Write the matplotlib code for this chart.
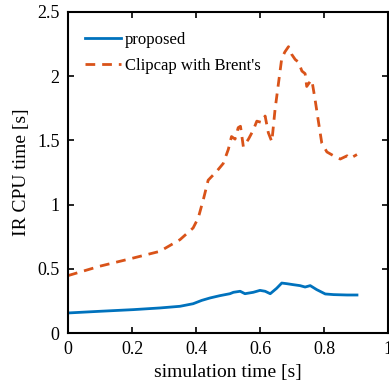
import matplotlib.pyplot as plt
import numpy as np

# datos
t_prop = [0, 0.099, 0.204, 0.287, 0.35, 0.391, 0.418, 0.444, 0.475, 0.506, 0.517,
          0.538, 0.553, 0.579, 0.600, 0.616, 0.632, 0.652, 0.668, 0.684, 0.705,
          0.725, 0.741, 0.757, 0.777, 0.804, 0.830, 0.872, 0.903]
cpu_prop = [0.156, 0.169, 0.182, 0.195, 0.208, 0.228, 0.254, 0.273, 0.291, 0.306, 0.317,
            0.325, 0.306, 0.317, 0.332, 0.325, 0.306, 0.348, 0.389, 0.384, 0.376,
            0.369, 0.358, 0.369, 0.338, 0.304, 0.299, 0.296, 0.296]

t_clip = [0, 0.099, 0.204, 0.287, 0.35, 0.391, 0.407, 0.423, 0.438, 0.465, 0.485,
          0.501, 0.511, 0.522, 0.532, 0.539, 0.548, 0.564, 0.579, 0.590, 0.605,
          0.616, 0.626, 0.637, 0.647, 0.658, 0.668, 0.678, 0.689, 0.699, 0.710,
          0.720, 0.731, 0.741, 0.746, 0.757, 0.762, 0.772, 0.783, 0.793, 0.809,
          0.830, 0.851, 0.872, 0.882, 0.903]
cpu_clip = [0.447, 0.52, 0.584, 0.636, 0.727, 0.818, 0.896, 1.04, 1.19, 1.26, 1.32,
            1.43, 1.53, 1.51, 1.60, 1.61, 1.45, 1.51, 1.58, 1.65, 1.64,
            1.69, 1.56, 1.49, 1.74, 1.95, 2.14, 2.19, 2.23, 2.17, 2.13,
            2.11, 2.04, 2.02, 1.92, 1.96, 1.97, 1.82, 1.64, 1.48, 1.41,
            1.38, 1.355, 1.38, 1.36, 1.39]

plt.rcParams['font.family'] = 'Liberation Serif'
plt.rcParams['font.size'] = 13

fig = plt.figure(figsize=(3.89, 3.90), dpi=100)
ax = fig.add_axes([68/389, 1 - 333/390, 320/389, 321/390])

ax.plot(t_prop, cpu_prop, color='#0072BD', linewidth=2.0, label='proposed')
ax.plot(t_clip, cpu_clip, color='#D95319', linewidth=2.0, linestyle=(0, (3.5, 2.5)),
        label="Clipcap with Brent's")

ax.set_xlim(0, 1)
ax.set_ylim(0, 2.5)
ax.set_xticks([0, 0.2, 0.4, 0.6, 0.8, 1])
ax.set_xticklabels(['0', '0.2', '0.4', '0.6', '0.8', '1'])
ax.set_yticks([0, 0.5, 1, 1.5, 2, 2.5])
ax.set_yticklabels(['0', '0.5', '1', '1.5', '2', '2.5'])
ax.tick_params(direction='in', top=True, right=True, length=4, width=1.2, pad=6)
for s in ax.spines.values():
    s.set_linewidth(1.5)

ax.set_xlabel('simulation time [s]', fontsize=14, labelpad=4)
ax.set_ylabel('IR CPU time [s]', fontsize=14, labelpad=5)
ax.legend(loc='upper left', bbox_to_anchor=(-0.01, 1.0), frameon=False,
          handlelength=2.2, handletextpad=0.2, borderaxespad=0.8,
          labelspacing=0.6, fontsize=12)

fig.savefig('out.png', dpi=100)
